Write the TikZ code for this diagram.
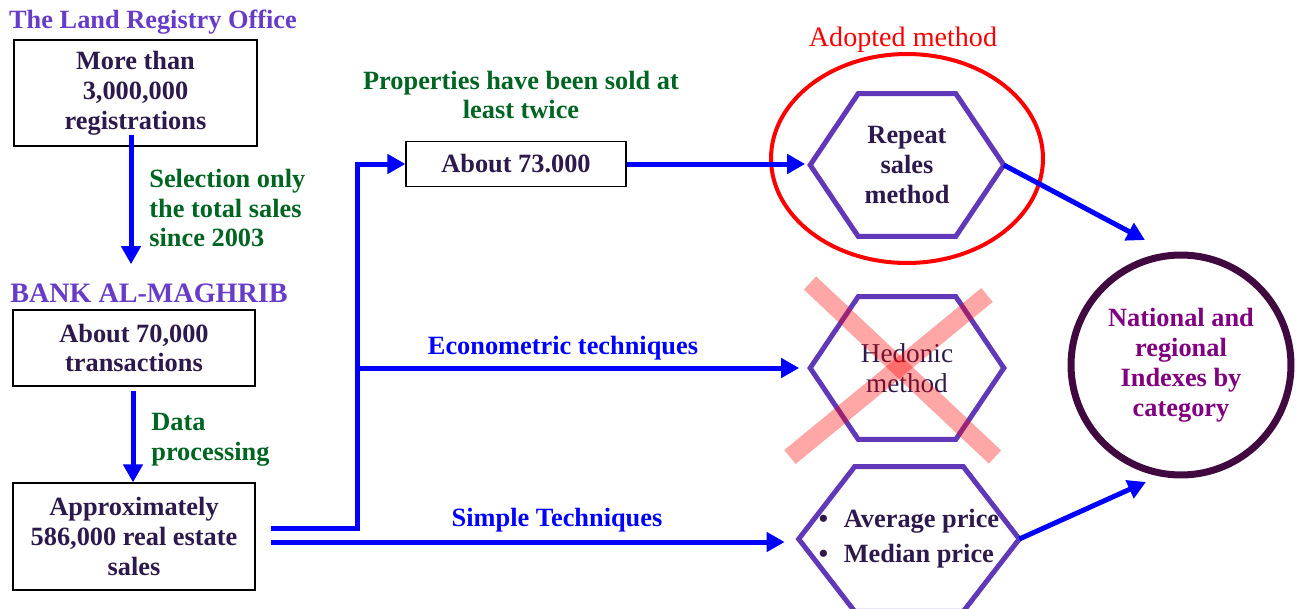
\documentclass[tikz,border=0pt]{standalone}
\usepackage{fontspec}
\setmainfont{Liberation Serif}
\usetikzlibrary{arrows.meta,calc,positioning,shapes.geometric}

\definecolor{regpurple}{RGB}{102,60,200}
\definecolor{hexpurple}{RGB}{96,56,184}
\definecolor{inkdark}{RGB}{45,25,75}
\definecolor{stepgreen}{RGB}{0,100,34}
\definecolor{flowblue}{RGB}{0,0,255}
\definecolor{adoptred}{RGB}{255,0,0}
\definecolor{idxring}{RGB}{64,10,64}
\definecolor{idxtext}{RGB}{128,0,128}

\tikzset{
  every node/.style={font=\fontsize{15}{17}\selectfont\bfseries, inner sep=0pt},
  orgtitle/.style={text=regpurple},
  databox/.style={draw=black, line width=0.7pt, text=inkdark, align=center},
  steptext/.style={text=stepgreen, align=left},
  techlabel/.style={text=flowblue},
  flow/.style={draw=flowblue, line width=0.1cm, -{Triangle[length=0.36cm,width=0.38cm]}},
  hexbox/.style={text=inkdark, align=center, minimum width=3.86cm, minimum height=2.84cm},
  hexframe/.style={draw=hexpurple, line width=0.1cm},
  crossout/.style={draw=adoptred, opacity=0.35, line width=0.36cm},
}

\begin{document}
\begin{tikzpicture}[x=0.02cm,y=-0.02cm]
  \useasboundingbox (0,0) rectangle (1296,609);

  % left column
  \node[orgtitle] (lro) at (153,22) {The Land Registry Office};
  \node[databox, minimum width=4.86cm, minimum height=2.12cm] (reg) at (135.5,93)
    {More than\\3,000,000\\registrations};
  \node[steptext, anchor=west] (sel) at (149,208) {Selection only\\the total sales\\since 2003};
  \node[orgtitle, anchor=west, font=\fontsize{16}{17}\selectfont\bfseries] (bam) at (10,293) {BANK AL-MAGHRIB};
  \node[databox, minimum width=4.84cm, minimum height=1.52cm] (tra) at (134,348)
    {About 70,000\\transactions};
  \node[steptext, anchor=west] (dat) at (151,440) {Data\\processing};
  \node[databox, minimum width=4.84cm, minimum height=2.14cm] (app) at (134,536.5)
    {Approximately\\586,000 real estate\\sales};

  \draw[flow] ($(reg.south)+(-4.5,-12)$) -- ($(reg.south |- bam.north)+(-4.5,-19)$);
  \draw[flow] ($(tra.south)+(-1,4)$) -- ($(app.north)+(-1,0)$);

  % middle
  \node[steptext, align=center] (twice) at (521,95) {Properties have been sold at\\least twice};
  \node[databox, minimum width=4.4cm, minimum height=0.9cm] (ab73) at (516,164) {About 73.000};
  \node[techlabel] (eco) at (563,348) {Econometric techniques};
  \node[techlabel] (sim) at (557,520) {Simple Techniques};

  % methods
  \node[hexbox] (rep) at (907,165) {Repeat\\sales\\method};
  \draw[hexframe] (rep.west) -- ($(rep.north west)+(48,0)$) -- ($(rep.north east)+(-48,0)$)
    -- (rep.east) -- ($(rep.south east)+(-48,0)$) -- ($(rep.south west)+(48,0)$) -- cycle;
  \node[hexbox, font=\fontsize{15.5}{17}\selectfont\mdseries] (hed) at (907,368) {Hedonic\\method};
  \draw[hexframe] (hed.west) -- ($(hed.north west)+(48,0)$) -- ($(hed.north east)+(-48,0)$)
    -- (hed.east) -- ($(hed.south east)+(-48,0)$) -- ($(hed.south west)+(48,0)$) -- cycle;
  \node[hexbox, align=left, minimum width=4.4cm, minimum height=2.88cm] (avg) at (909,539)
    {\textbullet\hspace{0.6em}Average price\\[3pt]\textbullet\hspace{0.6em}Median price};
  \draw[hexframe] (avg.west) -- ($(avg.north west)+(56,0)$) -- ($(avg.north east)+(-56,0)$)
    -- (avg.east) -- ($(avg.south east)+(-56,0)$) -- ($(avg.south west)+(56,0)$) -- cycle;

  \draw[crossout] ($(hed.center)+(-97,-85)$) -- ($(hed.center)+(88,89)$);
  \draw[crossout] ($(hed.center)+(80,-73)$) -- ($(hed.center)+(-117,89)$);

  \node[ellipse, draw=adoptred, line width=0.08cm, minimum width=5.44cm, minimum height=4.18cm]
    (adopt) at (907,158.5) {};
  \node[text=adoptred, font=\fontsize{16}{17}\selectfont\mdseries] (adl) at (903,40) {Adopted method};

  \node[circle, draw=idxring, line width=0.14cm, minimum size=4.4cm, text=idxtext, align=center]
    (idx) at (1181,365) {National and\\regional\\Indexes by\\category};

  % connectors
  \coordinate (fork) at (357,528);
  \coordinate (lowout) at ($(app.east)+(15,5.5)$);
  \draw[flow] ($(app.east)+(15,-8.5)$) -- (fork) |- (ab73.west);
  \draw[flow, shorten >=0.22cm] (fork |- hed.west) -- (hed.west);
  \draw[flow, shorten >=0.28cm] (lowout) -- (lowout -| avg.west);
  \draw[flow, shorten >=0.1cm] (ab73.east) -- (ab73.east -| rep.west);
  \draw[flow] (rep.east) -- ($(idx.north)+(-36,-11.5)$);
  \draw[flow] (avg.east) -- ($(idx.south)+(-35,3.5)$);
\end{tikzpicture}
\end{document}
